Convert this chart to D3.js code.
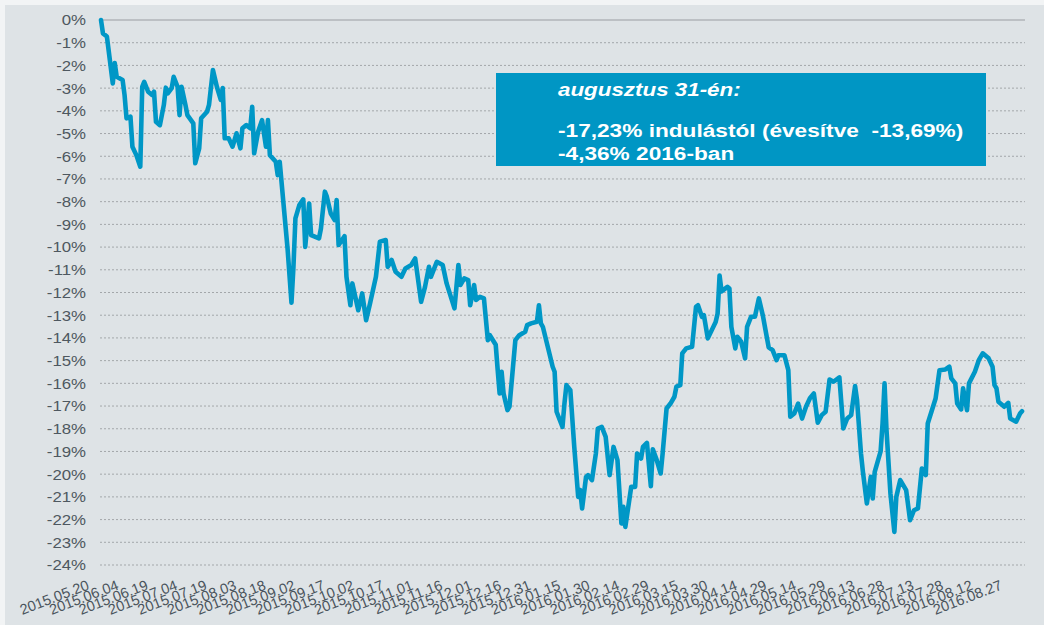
<!DOCTYPE html>
<html>
<head>
<meta charset="utf-8">
<script src="https://cdn.jsdelivr.net/npm/d3@7"></script>
<style>
  body { margin: 0; background: #f2f4f5; }
  svg { display: block; font-family: "Liberation Sans", Arial, sans-serif; }
</style>
</head>
<body>
<div id="chart"></div>
<script>
// indulás napja, a napok száma az indulástól, és a hozam (%)
const startDate = "2015-05-20";
const napok = [0,1,3,6,7,8,11,12,13,15,16,18,20,21,22,24,26,27,28,30,32,33,34,36,37,39,40,41,43,44,
  47,48,50,51,54,55,57,59,61,62,63,65,67,69,71,72,74,76,77,78,80,82,84,85,86,89,90,91,95,97,
  98,99,101,103,104,106,107,111,112,114,115,117,119,120,121,124,125,127,128,131,133,135,137,140,142,145,146,148,150,153,
  155,158,160,163,165,167,168,171,174,176,180,181,182,183,185,187,188,190,191,193,195,197,198,201,202,203,204,205,207,208,
  211,213,216,217,219,222,223,224,225,230,231,232,235,236,237,239,241,243,244,245,247,248,250,252,253,255,257,259,261,263,
  265,266,267,270,272,273,275,276,278,280,281,283,285,286,288,290,292,293,295,296,298,301,303,304,306,307,309,313,314,315,
  316,319,320,321,323,324,326,328,329,331,333,335,337,340,342,344,345,348,350,351,353,355,357,359,361,363,365,367,369,371,
  373,376,378,380,382,384,385,387,388,390,392,393,394,397,398,399,400,402,404,405,407,410,412,414,416,418,420,421,425,427,
  430,432,433,435,436,438,439,441,442,445,447,449,452,454,455,456,457,460,462,463,466,468,469];
const hozam = [0,-0.59,-0.73,-2.79,-1.9,-2.5,-2.64,-3.3,-4.33,-4.26,-5.58,-5.95,-6.46,-2.94,-2.72,-3.16,-3.3,-3.16,-4.48,-4.63,
  -3.74,-2.98,-3.23,-3.0,-2.5,-2.94,-4.19,-2.94,-3.74,-4.19,-4.55,-6.31,-5.65,-4.33,-4.04,-3.74,-2.2,-2.94,-3.52,-3.0,
  -5.21,-5.21,-5.58,-4.99,-5.65,-4.77,-4.63,-4.77,-3.82,-5.87,-4.92,-4.41,-5.58,-4.41,-5.95,-6.24,-6.83,-6.24,-10.06,-12.45,
  -10.87,-8.74,-8.15,-7.9,-9.99,-8.08,-9.47,-9.62,-9.18,-7.56,-7.78,-8.52,-8.81,-7.93,-9.91,-9.52,-11.31,-12.56,-11.6,-12.78,
  -12.04,-13.22,-12.48,-11.31,-9.76,-9.69,-10.87,-10.57,-11.09,-11.31,-10.94,-10.79,-10.5,-12.41,-11.75,-10.87,-11.31,-10.65,-10.79,-11.6,
  -12.7,-11.75,-10.79,-11.67,-11.38,-11.45,-12.56,-11.67,-12.33,-12.19,-12.26,-14.1,-13.88,-14.3,-15.4,-16.45,-15.49,-16.45,-17.18,-17.03,
  -14.1,-13.88,-13.73,-13.44,-13.36,-13.29,-12.56,-13.36,-13.51,-15.27,-15.49,-17.25,-17.92,-16.89,-16.08,-16.3,-18.8,-21.0,-20.7,-21.51,
  -20.12,-20.04,-20.26,-19.09,-17.99,-17.92,-18.36,-20.04,-18.8,-19.38,-22.17,-21.44,-22.32,-20.56,-20.56,-19.09,-19.31,-18.8,-18.62,-20.53,
  -18.9,-19.38,-19.97,-19.09,-17.11,-16.89,-16.59,-16.15,-16.08,-14.68,-14.46,-14.39,-12.63,-12.56,-13.07,-13.0,-14.02,-13.3,-12.92,-11.25,
  -11.95,-11.75,-11.82,-13.51,-14.46,-13.95,-14.17,-14.9,-13.51,-13.07,-13.07,-12.26,-13.0,-14.42,-14.54,-14.98,-14.76,-14.76,-15.42,-17.47,
  -17.33,-16.89,-17.55,-17.03,-16.66,-16.45,-17.73,-17.4,-17.25,-15.83,-15.93,-15.74,-17.99,-17.55,-17.4,-16.12,-16.74,-19.09,-19.9,-21.29,
  -20.12,-21.07,-19.9,-19.0,-17.77,-16.0,-18.06,-20.85,-22.54,-21.0,-20.26,-20.7,-22.03,-21.59,-21.51,-19.75,-20.04,-17.77,-16.67,-15.42,
  -15.39,-15.27,-15.78,-16.0,-16.89,-17.15,-16.22,-17.18,-16.0,-15.49,-14.98,-14.68,-14.9,-15.27,-16.08,-16.22,-16.81,-17.03,-16.86,-17.55,
  -17.69,-17.33,-17.23];
const endDate = "2016-08-31";
const yTicks = d3.range(0, -25, -1);
const xTickDates = ["2015-05-20","2015-06-04","2015-06-19","2015-07-04","2015-07-19","2015-08-03","2015-08-18","2015-09-02",
  "2015-09-17","2015-10-02","2015-10-17","2015-11-01","2015-11-16","2015-12-01","2015-12-16","2015-12-31",
  "2016-01-15","2016-01-30","2016-02-14","2016-02-29","2016-03-15","2016-03-30","2016-04-14","2016-04-29",
  "2016-05-14","2016-05-29","2016-06-13","2016-06-28","2016-07-13","2016-07-28","2016-08-12","2016-08-27"];
const cimke = "augusztus 31-én:";
const sorok = ["-17,23% indulástól (évesítve  -13,69%)", "-4,36% 2016-ban"];

const W = 1044, H = 625;
const parse = d3.timeParse("%Y-%m-%d");
const start = parse(startDate);
const data = napok.map((n, i) => ({ date: d3.timeDay.offset(start, n), v: hozam[i] }));

const svg = d3.select("#chart").append("svg")
  .attr("width", W)
  .attr("height", H);

svg.append("rect")
  .attr("x", 5).attr("y", 5)
  .attr("width", W - 5).attr("height", H - 5)
  .attr("fill", "#dee3e6");

const x = d3.scaleTime()
  .domain([start, parse(endDate)])
  .range([101, 1022]);

const y = d3.scaleLinear()
  .domain([-24, 0])
  .range([565, 20]);

// rácsvonalak
svg.append("g")
  .selectAll("line")
  .data(yTicks.filter(d => d !== 0))
  .join("line")
  .attr("x1", 100).attr("x2", 1025)
  .attr("y1", d => y(d)).attr("y2", d => y(d))
  .attr("stroke", "#a3a7aa")
  .attr("stroke-width", 1)
  .attr("stroke-dasharray", "2,2");

svg.append("line")
  .attr("x1", 100).attr("x2", 1025)
  .attr("y1", y(0)).attr("y2", y(0))
  .attr("stroke", "#9a9ea1")
  .attr("stroke-width", 1.2);

// y tengely feliratok
svg.append("g")
  .selectAll("text")
  .data(yTicks)
  .join("text")
  .attr("transform", d => `translate(86,${y(d)}) scale(1.12,1)`)
  .attr("dy", "0.36em")
  .attr("text-anchor", "end")
  .style("font-size", "15px")
  .attr("fill", "#4e5860")
  .text(d => d + "%");

// x tengely feliratok
const fmt = d3.timeFormat("%Y.%m.%d");
svg.append("g")
  .selectAll("text")
  .data(xTickDates.map(parse))
  .join("text")
  .attr("transform", d => `translate(${x(d) - 11},589) rotate(-21)`)
  .attr("text-anchor", "end")
  .style("font-size", "14.5px")
  .attr("fill", "#4a545c")
  .text(d => fmt(d));

// vonal
const line = d3.line()
  .x(d => x(d.date))
  .y(d => y(d.v));

svg.append("path")
  .datum(data)
  .attr("d", line)
  .attr("fill", "none")
  .attr("stroke", "#0097c6")
  .attr("stroke-width", 4.6)
  .attr("stroke-linejoin", "round")
  .attr("stroke-linecap", "round");

// információs doboz
const box = svg.append("g");
box.append("rect")
  .attr("x", 496).attr("y", 73)
  .attr("width", 490).attr("height", 93)
  .attr("fill", "#0096c4");

box.append("text")
  .attr("transform", "translate(558,96) scale(1.21,1)")
  .attr("fill", "#fff")
  .style("font-size", "18.5px")
  .style("font-weight", "bold")
  .style("font-style", "italic")
  .text(cimke);

box.selectAll("text.sor")
  .data(sorok)
  .join("text")
  .attr("class", "sor")
  .attr("transform", (d, i) => `translate(558,${137 + i * 23}) scale(1.225,1)`)
  .attr("fill", "#fff")
  .style("font-size", "18.5px")
  .style("font-weight", "bold")
  .style("white-space", "pre")
  .text(d => d);
</script>
</body>
</html>
